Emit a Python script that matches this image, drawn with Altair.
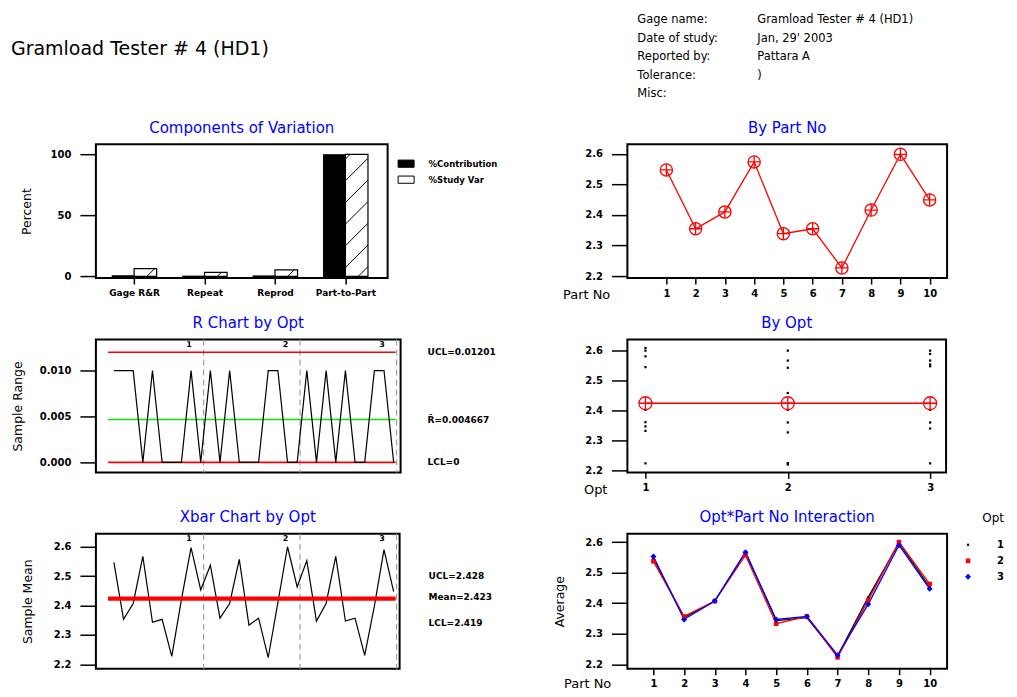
import json
import altair as alt
import pandas as pd

FONT = "DejaVu Sans"
RED = "#ff0000"
BLUE = "#0000ff"
GREEN = "#00e600"
GRAY = "#a0a0a0"
PLUS = "M-1,0H1M0,-1V1"

# ---------------- data ----------------
main_title = "Gramload Tester # 4 (HD1)"
header_labels = ["Gage name:", "Date of study:", "Reported by:", "Tolerance:", "Misc:"]
header_values = ["Gramload Tester # 4 (HD1)", "Jan, 29' 2003", "Pattara A", ")", ""]

components = ["Gage R&R", "Repeat", "Reprod", "Part-to-Part"]
measures = ["%Contribution", "%Study Var"]
pct_contribution = [0.41, 0.11, 0.30, 99.59]
pct_study_var = [6.4, 3.3, 5.4, 99.8]
percent_ticks = [0, 50, 100]

parts = [1, 2, 3, 4, 5, 6, 7, 8, 9, 10]
part_means = [2.547, 2.355, 2.410, 2.573, 2.339, 2.355, 2.227, 2.416, 2.598, 2.449]
avg_ticks = [2.2, 2.3, 2.4, 2.5, 2.6]

opts = ["1", "2", "3"]
opt1_avgs = [2.547, 2.353, 2.407, 2.567, 2.343, 2.353, 2.227, 2.420, 2.597, 2.453]
opt2_avgs = [2.537, 2.357, 2.407, 2.557, 2.333, 2.357, 2.223, 2.410, 2.600, 2.463]
opt3_avgs = [2.553, 2.347, 2.407, 2.567, 2.347, 2.357, 2.230, 2.397, 2.590, 2.447]

sample_ranges = [0.01, 0.01, 0.01, 0.0, 0.01, 0.0, 0.0, 0.0, 0.01, 0.0,
                 0.01, 0.0, 0.01, 0.0, 0.0, 0.0, 0.01, 0.01, 0.0, 0.0,
                 0.01, 0.0, 0.01, 0.0, 0.01, 0.0, 0.0, 0.01, 0.01, 0.0]
range_ticks = [0.0, 0.005, 0.010]
r_ucl, r_bar, r_lcl = 0.01201, 0.004667, 0.0
x_ucl, x_mean, x_lcl = 2.428, 2.423, 2.419

opt1_obs = [2.608, 2.599, 2.580, 2.544, 2.402, 2.361, 2.347, 2.332, 2.224]
opt2_obs = [2.599, 2.566, 2.542, 2.458, 2.402, 2.360, 2.327, 2.225, 2.220]
opt3_obs = [2.599, 2.588, 2.566, 2.553, 2.547, 2.402, 2.360, 2.340, 2.224]
opt_means = [2.424, 2.424, 2.424]


def lin(domain):
    return alt.Scale(domain=domain, nice=False, zero=False)


def panel_title(text, width):
    return alt.Chart(pd.DataFrame({"t": [text]})).mark_text(
        font=FONT, fontSize=15, color=BLUE, align="center", baseline="middle"
    ).encode(text="t:N", x=alt.value(width / 2), y=alt.value(-16.5))


LABEL_STYLE = dict(labelFont=FONT, labelFontSize=10, labelFontWeight="bold", labelColor="black",
                   tickColor="black", tickWidth=1.5, domain=False, grid=False,
                   titleFont=FONT, titleFontWeight="normal", titleColor="black")


def y_axis(values, fmt, title=None, title_x=-70, height=134):
    kw = dict(values=values, format=fmt, tickSize=16, labelPadding=9, **LABEL_STYLE)
    if title:
        kw.update(title=title, titleX=title_x, titleY=height / 2, titleAngle=270,
                  titleAlign="center", titleBaseline="middle", titleFontSize=12.5)
    else:
        kw.update(title=None)
    return alt.Axis(**kw)


def x_axis(values, title=None, title_x=0, title_y=16, label_expr=None, fmt="d", label_size=10):
    kw = dict(values=values, format=fmt, tickSize=6, labelPadding=4, **LABEL_STYLE)
    kw["labelFontSize"] = label_size
    if label_expr:
        kw["labelExpr"] = label_expr
    if title:
        kw.update(title=title, titleX=title_x, titleY=title_y, titleAlign="left",
                  titleBaseline="middle", titleFontSize=13)
    else:
        kw.update(title=None)
    return alt.Axis(**kw)


# ---------------- Components of Variation ----------------
W1, H1 = 292, 134
cx_dom, cy_dom = [0.4575, 4.599], [-1.39, 108.2]
cx, cy = lin(cx_dom), lin(cy_dom)
bar_w = 0.31
rows = []
for k, comp in enumerate(components, start=1):
    rows.append(dict(component=comp, measure=measures[0], value=pct_contribution[k - 1],
                     x0=k - bar_w, x1=k, base=0.0))
    rows.append(dict(component=comp, measure=measures[1], value=pct_study_var[k - 1],
                     x0=k, x1=k + bar_w + 0.01, base=0.0))
comp_df = pd.DataFrame(rows)

# diagonal hatching of the %Study Var bars (45 degrees in pixel space)
px_x = W1 / (cx_dom[1] - cx_dom[0])
px_y = H1 / (cy_dom[1] - cy_dom[0])
hatch = []
for _, r in comp_df[comp_df.measure == measures[1]].iterrows():
    x0, x1, h = r.x0, r.x1, r.value
    rise = (x1 - x0) * px_x / px_y
    step = 21.7 / px_y
    c = -rise + 0.45 * step
    while c < h:
        xa, ya, xb, yb = x0, c, x1, c + rise
        if ya < 0:
            xa = x0 + (0 - c) / rise * (x1 - x0)
            ya = 0.0
        if yb > h:
            xb = x0 + (h - c) / rise * (x1 - x0)
            yb = h
        if xb > xa:
            hatch.append(dict(xa=xa, xb=xb, ya=ya, yb=yb))
        c += step
hatch_df = pd.DataFrame(hatch)

label_expr = "[" + ", ".join(json.dumps(c) for c in [""] + components) + "][datum.value]"
comp_xaxis = x_axis([1, 2, 3, 4], label_expr=label_expr, label_size=9)
comp_yaxis = y_axis(percent_ticks, "d", "Percent", -69, H1)

bars = alt.Chart(comp_df).mark_rect(stroke="black", strokeWidth=1.2).encode(
    x=alt.X("x0:Q", scale=cx, axis=comp_xaxis), x2="x1:Q",
    y=alt.Y("value:Q", scale=cy, axis=comp_yaxis), y2="base:Q",
    fill=alt.Fill("measure:N", scale=alt.Scale(domain=measures, range=["black", "white"]),
                  legend=alt.Legend(orient="none", legendX=302, legendY=11, title=None,
                                    symbolType="M-1,-0.45H1V0.45H-1Z", symbolSize=256,
                                    symbolStrokeColor="black", symbolStrokeWidth=1,
                                    labelFont=FONT, labelFontSize=8.5, labelFontWeight="bold",
                                    labelColor="black", labelOffset=14, rowPadding=1)),
)
hatch_rules = alt.Chart(hatch_df).mark_rule(color="black", strokeWidth=1).encode(
    x=alt.X("xa:Q", scale=cx, axis=comp_xaxis), x2="xb:Q",
    y=alt.Y("ya:Q", scale=cy, axis=comp_yaxis), y2="yb:Q",
)
title_text = alt.Chart(pd.DataFrame({"t": [main_title]})).mark_text(
    align="left", baseline="middle", font=FONT, fontSize=19, color="black"
).encode(text="t:N", x=alt.value(-85), y=alt.value(-95))

comp_chart = alt.layer(bars, hatch_rules, title_text,
                       panel_title("Components of Variation", W1)).properties(width=W1, height=H1)

# ---------------- By Part No ----------------
W2, H2 = 320, 134
bpx, bpy = lin([-0.333, 10.595]), lin([2.194, 2.631])
bp_df = pd.DataFrame({"part": parts, "mean": part_means})
bp_xaxis = x_axis(parts, "Part No", -65, 16)
bp_yaxis = y_axis(avg_ticks, ".1f")
bp_base = alt.Chart(bp_df).encode(
    x=alt.X("part:Q", scale=bpx, axis=bp_xaxis),
    y=alt.Y("mean:Q", scale=bpy, axis=bp_yaxis))
hdr_lab = alt.Chart(pd.DataFrame({"t": ["\n".join(header_labels)]})).mark_text(
    align="left", baseline="top", lineBreak="\n", lineHeight=18.5, font=FONT,
    fontSize=11.5, color="black").encode(text="t:N", x=alt.value(10), y=alt.value(-130))
hdr_val = alt.Chart(pd.DataFrame({"t": ["\n".join(header_values)]})).mark_text(
    align="left", baseline="top", lineBreak="\n", lineHeight=18.5, font=FONT,
    fontSize=11.5, color="black").encode(text="t:N", x=alt.value(130), y=alt.value(-130))
bp_chart = alt.layer(
    bp_base.mark_line(color=RED, strokeWidth=1.3),
    bp_base.mark_point(shape="circle", size=150, filled=False, color=RED, strokeWidth=1.3, opacity=1),
    bp_base.mark_point(shape=PLUS, size=150, filled=False, color=RED, strokeWidth=1.3, opacity=1),
    hdr_lab, hdr_val, panel_title("By Part No", W2),
).properties(width=W2, height=H2)

# ---------------- R chart & Xbar chart shared pieces ----------------
n = len(sample_ranges)
per_op = n // len(opts)
idx = list(range(n))
bounds_df = pd.DataFrame({"b": [k * per_op - 0.7 for k in range(1, len(opts) + 1)]})
oplab_df = pd.DataFrame({"l": [k * per_op - 2.2 for k in range(1, len(opts) + 1)], "t": opts})
line_x0, line_x1 = -0.6, n - 1 + 0.2

W3, H3 = 305, 133
rx, ry = lin([-1.864, 29.72]), lin([-0.00109, 0.01339])
r_df = pd.DataFrame({"i": idx, "r": sample_ranges})
r_yaxis = y_axis(range_ticks, ".3f", "Sample Range", -78, H3)
r_lim = pd.DataFrame({"v": [r_ucl, r_bar, r_lcl], "c": [RED, GREEN, RED],
                      "lab": [f"UCL={r_ucl}", f"R\u0304={r_bar}", f"LCL={r_lcl:g}"],
                      "x0": line_x0, "x1": line_x1})
r_chart = alt.layer(
    alt.Chart(bounds_df).mark_rule(color=GRAY, strokeDash=[6, 4], strokeWidth=1.2).encode(
        x=alt.X("b:Q", scale=rx, axis=None)),
    alt.Chart(r_lim).mark_rule(strokeWidth=1.6).encode(
        x=alt.X("x0:Q", scale=rx, axis=None), x2="x1:Q",
        y=alt.Y("v:Q", scale=ry, axis=r_yaxis), color=alt.Color("c:N", scale=None)),
    alt.Chart(r_df).mark_line(color="black", strokeWidth=1.2).encode(
        x=alt.X("i:Q", scale=rx, axis=None), y=alt.Y("r:Q", scale=ry, axis=r_yaxis)),
    alt.Chart(r_lim).mark_text(align="left", baseline="middle", font=FONT, fontSize=9,
                               fontWeight="bold", color="black").encode(
        x=alt.value(W3 + 27), y=alt.Y("v:Q", scale=ry, axis=r_yaxis), text="lab:N"),
    alt.Chart(oplab_df).mark_text(baseline="top", font=FONT, fontSize=8, fontWeight="bold",
                                  color="black").encode(
        x=alt.X("l:Q", scale=rx, axis=None), y=alt.value(1), text="t:N"),
    panel_title("R Chart by Opt", W3),
).properties(width=W3, height=H3)

W5, H5 = 304, 135
xx, xy = lin([-1.864, 29.62]), lin([2.185, 2.644])
xbar_df = pd.DataFrame({"i": idx, "m": opt1_avgs + opt2_avgs + opt3_avgs})
x_yaxis = y_axis(avg_ticks, ".1f", "Sample Mean", -68, H5)
x_lim = pd.DataFrame({"v": [x_ucl, x_mean, x_lcl], "x0": line_x0, "x1": line_x1})
x_labels = [(f"UCL={x_ucl}", 42), (f"Mean={x_mean}", 63), (f"LCL={x_lcl}", 89)]
x_label_layers = [
    alt.Chart(pd.DataFrame({"t": [t]})).mark_text(
        align="left", baseline="middle", font=FONT, fontSize=9, fontWeight="bold",
        color="black").encode(text="t:N", x=alt.value(W5 + 29), y=alt.value(yy))
    for t, yy in x_labels
]
xbar_chart = alt.layer(
    alt.Chart(bounds_df).mark_rule(color=GRAY, strokeDash=[6, 4], strokeWidth=1.2).encode(
        x=alt.X("b:Q", scale=xx, axis=None)),
    alt.Chart(xbar_df).mark_line(color="black", strokeWidth=1.2).encode(
        x=alt.X("i:Q", scale=xx, axis=None), y=alt.Y("m:Q", scale=xy, axis=x_yaxis)),
    alt.Chart(x_lim).mark_rule(color=RED, strokeWidth=1.8).encode(
        x=alt.X("x0:Q", scale=xx, axis=None), x2="x1:Q",
        y=alt.Y("v:Q", scale=xy, axis=x_yaxis)),
    alt.Chart(oplab_df).mark_text(baseline="top", font=FONT, fontSize=8, fontWeight="bold",
                                  color="black").encode(
        x=alt.X("l:Q", scale=xx, axis=None), y=alt.value(1), text="t:N"),
    *x_label_layers,
    panel_title("Xbar Chart by Opt", W5),
).properties(width=W5, height=H5)

# ---------------- By Opt ----------------
W4, H4 = 319, 133
ox, oy = lin([0.873, 3.112]), lin([2.194, 2.636])
obs_rows = []
for o, vals in zip([1, 2, 3], [opt1_obs, opt2_obs, opt3_obs]):
    obs_rows += [dict(opt=o, v=v) for v in vals]
obs_df = pd.DataFrame(obs_rows)
om_df = pd.DataFrame({"opt": [1, 2, 3], "v": opt_means})
o_xaxis = x_axis([1, 2, 3], "Opt", -44, 17)
o_yaxis = y_axis(avg_ticks, ".1f")
om_base = alt.Chart(om_df).encode(x=alt.X("opt:Q", scale=ox, axis=o_xaxis),
                                  y=alt.Y("v:Q", scale=oy, axis=o_yaxis))
byopt_chart = alt.layer(
    alt.Chart(obs_df).mark_square(size=5, color="black", opacity=1).encode(
        x=alt.X("opt:Q", scale=ox, axis=o_xaxis), y=alt.Y("v:Q", scale=oy, axis=o_yaxis)),
    om_base.mark_line(color=RED, strokeWidth=1.3),
    om_base.mark_point(shape="circle", size=170, filled=False, color=RED, strokeWidth=1.3, opacity=1),
    om_base.mark_point(shape=PLUS, size=170, filled=False, color=RED, strokeWidth=1.3, opacity=1),
    panel_title("By Opt", W4),
).properties(width=W4, height=H4)

# ---------------- Interaction ----------------
W6, H6 = 320, 135
ix, iy = lin([0.152, 10.567]), lin([2.186, 2.627])
int_rows = []
for o, vals in zip(opts, [opt1_avgs, opt2_avgs, opt3_avgs]):
    int_rows += [dict(part=p, opt=o, avg=v) for p, v in zip(parts, vals)]
int_df = pd.DataFrame(int_rows)
i_xaxis = x_axis(parts, "Part No", -64, 15)
i_yaxis = y_axis(avg_ticks, ".1f", "Average", -68, H6)
opt_colors = ["black", RED, BLUE]
leg = alt.Legend(orient="none", legendX=336, legendY=-21, title="Opt", titleFont=FONT,
                 titleFontSize=12, titleFontWeight="normal", titleColor="black",
                 titleAnchor="end", titlePadding=15, labelFont=FONT, labelFontSize=10,
                 labelFontWeight="bold", labelColor="black", labelOffset=24, rowPadding=6)
line_layers = [
    alt.Chart(int_df).transform_filter(alt.datum.opt == o).mark_line(color=c, strokeWidth=1.3).encode(
        x=alt.X("part:Q", scale=ix, axis=i_xaxis), y=alt.Y("avg:Q", scale=iy, axis=i_yaxis))
    for o, c in zip(opts, opt_colors)
]
int_points = alt.Chart(int_df).mark_point(filled=True, opacity=1).encode(
    x=alt.X("part:Q", scale=ix, axis=i_xaxis), y=alt.Y("avg:Q", scale=iy, axis=i_yaxis),
    color=alt.Color("opt:N", scale=alt.Scale(domain=opts, range=opt_colors), legend=leg),
    shape=alt.Shape("opt:N", scale=alt.Scale(domain=opts, range=["circle", "square", "diamond"]), legend=leg),
    size=alt.Size("opt:N", scale=alt.Scale(domain=opts, range=[6, 36, 100]), legend=leg),
)
int_chart = alt.layer(*line_layers, int_points,
                      panel_title("Opt*Part No Interaction", W6)).properties(width=W6, height=H6)

# ---------------- assemble ----------------
indep = dict(color="independent", fill="independent", shape="independent", size="independent")
chart = alt.concat(
    comp_chart, bp_chart, r_chart, byopt_chart, xbar_chart, int_chart,
    columns=2, spacing={"row": 61.5, "column": 227}, bounds="flush",
).resolve_scale(**indep).properties(
    padding={"left": 2, "top": 5, "right": 4, "bottom": 4}, background="white"
).configure_view(
    stroke="black", strokeWidth=2
).configure_axis(
    labelFont=FONT, labelFontSize=10, labelFontWeight="bold", labelColor="black",
    tickColor="black", tickWidth=1.5, domain=False, grid=False,
    titleFont=FONT, titleFontSize=12.5, titleFontWeight="normal", titleColor="black"
)

chart.save("out.html", embed_options={"renderer": "svg", "actions": False})
